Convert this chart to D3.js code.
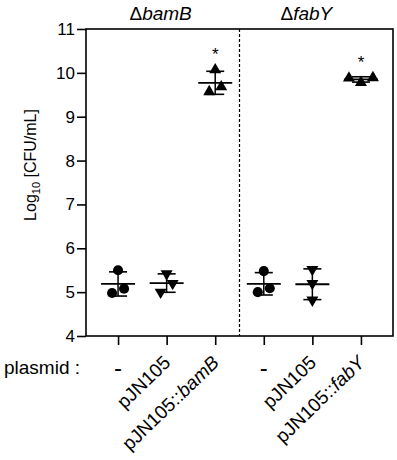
<!DOCTYPE html>
<html>
<head>
<meta charset="utf-8">
<script src="https://cdn.jsdelivr.net/npm/d3@7"></script>
<style>
  body { margin: 0; background: #fff; }
  text { font-family: Arial, "Liberation Sans", sans-serif; fill: #000; }
</style>
</head>
<body>
<svg id="chart" width="397" height="460"></svg>
<script>
// categories (plasmid) and strain groups
let categories = ['c1', 'c2', 'c3', 'c4', 'c5', 'c6']
let plasmids = [
  ['-', ''],
  ['pJN105', ''],
  ['pJN105::', 'bamB'],
  ['-', ''],
  ['pJN105', ''],
  ['pJN105::', 'fabY']
]
let strains = ['bamB', 'fabY']
let yTicks = [4, 5, 6, 7, 8, 9, 10, 11]

// log10 CFU/mL, three replicates each
let bamB_none = [5.50, 4.98, 5.08]
let bamB_pJN105 = [5.42, 5.20, 5.00]
let bamB_comp = [10.07, 9.57, 9.68]
let fabY_none = [5.48, 5.00, 5.09]
let fabY_pJN105 = [5.52, 5.20, 4.82]
let fabY_comp = [9.88, 9.78, 9.89]

// horizontal spread of replicate points (scatter jitter)
let spread = [
  [0, -1, 1],
  [0, 1, -1],
  [0, -1, 1],
  [0, -1, 1],
  [0, 0, 0],
  [-2, 0, 2]
]
let significant = [false, false, true, false, false, true]

let series = [bamB_none, bamB_pJN105, bamB_comp, fabY_none, fabY_pJN105, fabY_comp]
let shapes = ['circle', 'down', 'up', 'circle', 'down', 'up']

let margin = { top: 29, right: 4, bottom: 124, left: 86 }
let width = 397 - margin.left - margin.right
let height = 460 - margin.top - margin.bottom

let svg = d3.select('#chart')
let g = svg.append('g').attr('transform', `translate(${margin.left}, ${margin.top})`)

let x = d3.scalePoint().domain(categories).range([0, width]).padding(0.66)
let y = d3.scaleLinear().domain([4, 11]).range([height, 0])

// frame
g.append('rect')
  .attr('width', width)
  .attr('height', height)
  .style('fill', 'none')
  .style('stroke', '#000')
  .style('stroke-width', 1.6)

// y axis
let yAxis = g.append('g')
  .call(d3.axisLeft(y).tickValues(yTicks).tickSize(9).tickPadding(2).tickFormat(d3.format('d')))
yAxis.select('.domain').remove()
yAxis.selectAll('line').style('stroke', '#000').style('stroke-width', 1.6)
yAxis.selectAll('text').style('font-size', '17px').attr('fill', '#000')

// x axis ticks
let xAxis = g.append('g')
  .attr('transform', `translate(0, ${height})`)
  .call(d3.axisBottom(x).tickSize(9).tickFormat(''))
xAxis.select('.domain').remove()
xAxis.selectAll('line').style('stroke', '#000').style('stroke-width', 1.6)

// dashed separator between strains
let sepX = (x('c3') + x('c4')) / 2
g.append('line')
  .attr('x1', sepX).attr('x2', sepX)
  .attr('y1', 0).attr('y2', height)
  .style('stroke', '#000')
  .style('stroke-width', 1.2)
  .style('stroke-dasharray', '3,2')

// strain titles
strains.forEach((s, i) => {
  let cx = x(categories[i * 3 + 1]) - 6
  let t = svg.append('text')
    .attr('x', margin.left + cx)
    .attr('y', 20)
    .attr('text-anchor', 'middle')
    .style('font-size', '19px')
  t.append('tspan').text('Δ')
  t.append('tspan').style('font-style', 'italic').text(s)
})

// y label
let yl = svg.append('text')
  .attr('transform', `translate(36, ${margin.top + y(7.9)}) rotate(-90)`)
  .attr('text-anchor', 'middle')
  .style('font-size', '16px')
yl.append('tspan').text('Log')
yl.append('tspan').attr('dy', 4).style('font-size', '11px').text('10')
yl.append('tspan').attr('dy', -4).text(' [CFU/mL]')

// plasmid labels
svg.append('text')
  .attr('x', 4)
  .attr('y', 374)
  .style('font-size', '19px')
  .text('plasmid :')

categories.forEach((c, i) => {
  let px = margin.left + x(c)
  let lab = plasmids[i]
  if (lab[0] === '-') {
    svg.append('text')
      .attr('x', px)
      .attr('y', 376)
      .attr('text-anchor', 'middle')
      .style('font-size', '24px')
      .text('-')
  } else {
    let t = svg.append('text')
      .attr('transform', `translate(${px + 5}, ${margin.top + height + 28}) rotate(-44)`)
      .attr('text-anchor', 'end')
      .style('font-size', '19px')
    t.append('tspan').text(lab[0])
    if (lab[1]) t.append('tspan').style('font-style', 'italic').text(lab[1])
  }
})

// data: mean and SD bars, points
let symCircle = d3.symbol(d3.symbolCircle, 80)
let symTri = d3.symbol(d3.symbolTriangle, 62)

series.forEach((vals, i) => {
  let cx = x(categories[i])
  let m = d3.mean(vals)
  let sd = d3.deviation(vals)
  let grp = g.append('g').attr('class', 'group')

  grp.append('line')
    .attr('x1', cx).attr('x2', cx)
    .attr('y1', y(m + sd)).attr('y2', y(m - sd))
    .style('stroke', '#000').style('stroke-width', 1.5)
  grp.selectAll('line.cap')
    .data([m + sd, m - sd])
    .join('line')
    .attr('class', 'cap')
    .attr('x1', cx - 9).attr('x2', cx + 9)
    .attr('y1', d => y(d)).attr('y2', d => y(d))
    .style('stroke', '#000').style('stroke-width', 1.6)

  grp.selectAll('path')
    .data(vals)
    .join('path')
    .attr('d', shapes[i] === 'circle' ? symCircle : symTri)
    .attr('transform', (d, j) => {
      let tx = cx + spread[i][j] * 6
      let rot = shapes[i] === 'down' ? ' rotate(180)' : ''
      return `translate(${tx}, ${y(d)})${rot}`
    })
    .style('fill', '#000')

  grp.append('line')
    .attr('x1', cx - 17).attr('x2', cx + 17)
    .attr('y1', y(m)).attr('y2', y(m))
    .style('stroke', '#000').style('stroke-width', 1.8)

  if (significant[i]) {
    grp.append('text')
      .attr('x', cx)
      .attr('y', y(d3.max(vals)) - 10)
      .attr('text-anchor', 'middle')
      .style('font-size', '17px')
      .text('*')
  }
})
</script>
</body>
</html>
